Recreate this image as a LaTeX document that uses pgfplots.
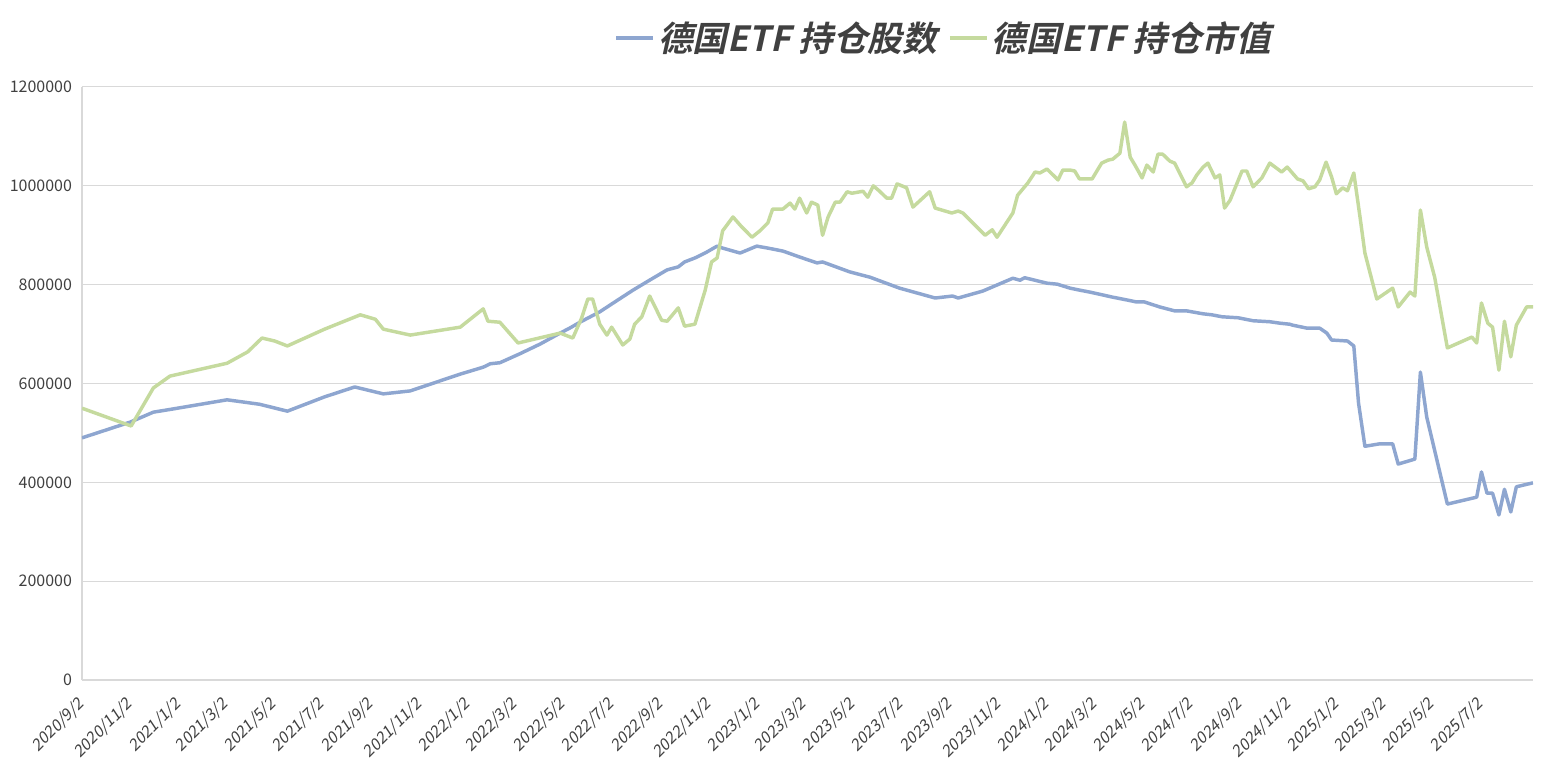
\documentclass[border=0pt]{standalone}
\usepackage{pgfplots}
\pgfplotsset{compat=1.18}
\usepackage{fontspec}
\setmainfont{Noto Sans CJK SC}
\newfontfamily\tickfont{Noto Sans CJK SC}
\newfontfamily\xtickfont{Noto Sans CJK SC}[FakeSlant=0.2]
\newfontfamily\legfont{Noto Sans CJK SC Bold}[FakeSlant=0.22]
\definecolor{sblue}{RGB}{142,166,208}
\definecolor{sgreen}{RGB}{197,218,158}
\definecolor{txt}{RGB}{64,64,64}
\definecolor{gridc}{RGB}{217,217,217}
\begin{document}
\begin{tikzpicture}
\begin{axis}[
  at={(0,0)}, anchor=south west,
  scale only axis, width=1088.25pt, height=444.75pt,
  xmin=0, xmax=1830, ymin=0, ymax=1200000,
  axis x line*=bottom, axis y line*=left,
  axis line style={draw=gridc, line width=1pt, -},
  ytick={0,200000,400000,600000,800000,1000000,1200000},
  ymajorgrids, grid style={draw=gridc, line width=0.75pt},
  major tick length=0pt,
  scaled y ticks=false,
  yticklabel style={font=\tickfont\fontsize{12}{14}\selectfont, text=txt, xshift=-4pt,
    /pgf/number format/.cd, fixed, 1000 sep={}, assume math mode=true},
  xtick={0,61,122,181,242,303,365,426,487,546,607,668,730,791,852,911,972,1033,1095,1156,1217,1277,1338,1399,1461,1522,1583,1642,1703,1764},
  xticklabels={2020/9/2,2020/11/2,2021/1/2,2021/3/2,2021/5/2,2021/7/2,2021/9/2,2021/11/2,2022/1/2,2022/3/2,2022/5/2,2022/7/2,2022/9/2,2022/11/2,2023/1/2,2023/3/2,2023/5/2,2023/7/2,2023/9/2,2023/11/2,2024/1/2,2024/3/2,2024/5/2,2024/7/2,2024/9/2,2024/11/2,2025/1/2,2025/3/2,2025/5/2,2025/7/2},
  xticklabel style={font=\xtickfont\fontsize{12}{14}\selectfont, text=txt, xshift=2pt, yshift=-14pt, rotate=45, anchor=east},
  legend columns=2,
  legend style={at={(0.594,1.083)}, anchor=center, draw=none, fill=none,
    font=\legfont\fontsize{26}{30}\selectfont, text=txt,
    /tikz/every even column/.append style={column sep=6pt}},
  legend image code/.code={\draw[#1, line width=3pt] (0pt,0pt) -- (28pt,0pt);},
  line join=round,
]
\addplot[sblue, line width=2.6pt] coordinates {
(0,490000)(61,522000)(90,542000)(113,548000)(183,567000)(224,558000)(259,544000)(306,573000)
(344,593000)(380,579000)(414,585000)(477,619000)(506,633000)(515,640000)(527,642000)(552,660000)
(578,680000)(603,702000)(615,712000)(628,724000)(653,745000)(672,765000)(695,789000)(720,813000)
(738,830000)(752,836000)(760,846000)(773,854000)(788,866000)(801,878000)(808,874000)(830,864000)
(851,878000)(865,874000)(884,868000)(905,856000)(927,844000)(934,846000)(968,826000)(994,815000)
(1031,793000)(1076,773000)(1098,777000)(1105,773000)(1136,787000)(1174,813000)(1183,809000)(1189,814000)
(1217,803000)(1230,801000)(1246,793000)(1258,789000)(1271,785000)(1288,779000)(1299,775000)(1318,769000)
(1330,765000)(1340,765000)(1359,755000)(1378,747000)(1393,747000)(1414,741000)(1425,739000)(1438,735000)
(1458,733000)(1477,727000)(1498,725000)(1511,722000)(1523,720000)(1527,718000)(1545,712000)(1561,712000)
(1570,702000)(1576,688000)(1596,686000)(1604,676000)(1610,560000)(1618,473000)(1637,478000)(1653,478000)
(1660,437000)(1681,447000)(1688,623000)(1696,532000)(1722,356000)(1759,370000)(1765,421000)(1772,378000)
(1779,378000)(1787,334000)(1794,386000)(1802,340000)(1809,391000)(1830,399000)
};
\addlegendentry{德国ETF 持仓股数}
\addplot[sgreen, line width=2.6pt] coordinates {
(0,550000)(62,514000)(90,591000)(111,615000)(183,641000)(209,664000)(227,692000)(243,686000)
(259,676000)(306,710000)(351,739000)(370,730000)(380,710000)(414,698000)(477,714000)(506,751000)
(512,726000)(527,724000)(550,682000)(603,702000)(619,692000)(630,732000)(638,771000)(644,771000)
(653,720000)(662,698000)(668,714000)(682,678000)(691,690000)(697,720000)(706,735000)(716,777000)
(731,728000)(738,726000)(752,753000)(760,716000)(773,720000)(786,789000)(794,846000)(801,854000)
(808,909000)(821,937000)(832,917000)(845,896000)(855,909000)(865,925000)(871,953000)(884,953000)
(893,965000)(899,953000)(905,975000)(914,945000)(920,967000)(928,961000)(934,900000)(941,937000)
(950,967000)(956,967000)(965,988000)(971,985000)(985,989000)(991,977000)(998,1000000)(1006,989000)
(1015,975000)(1021,975000)(1028,1004000)(1040,996000)(1048,957000)(1069,988000)(1076,955000)(1097,945000)
(1105,949000)(1111,945000)(1139,900000)(1148,911000)(1154,896000)(1174,945000)(1180,981000)(1193,1006000)
(1202,1028000)(1208,1026000)(1217,1034000)(1231,1012000)(1237,1032000)(1246,1032000)(1252,1030000)(1258,1014000)
(1274,1014000)(1286,1046000)(1294,1052000)(1300,1054000)(1309,1066000)(1315,1129000)(1322,1058000)(1328,1042000)
(1337,1016000)(1343,1042000)(1351,1028000)(1357,1064000)(1363,1064000)(1372,1050000)(1378,1046000)(1393,998000)
(1400,1006000)(1406,1022000)(1414,1038000)(1420,1046000)(1429,1016000)(1435,1022000)(1441,955000)(1448,971000)
(1463,1030000)(1469,1030000)(1477,998000)(1488,1016000)(1498,1046000)(1513,1028000)(1520,1038000)(1533,1014000)
(1540,1010000)(1547,994000)(1555,998000)(1561,1012000)(1569,1048000)(1576,1018000)(1582,984000)(1590,996000)
(1596,990000)(1604,1026000)(1612,935000)(1618,864000)(1633,771000)(1653,793000)(1660,755000)(1675,785000)
(1681,777000)(1688,951000)(1696,876000)(1706,815000)(1722,672000)(1753,694000)(1759,682000)(1765,763000)
(1773,722000)(1779,714000)(1787,627000)(1794,726000)(1802,654000)(1809,718000)(1822,755000)(1830,755000)
};
\addlegendentry{德国ETF 持仓市值}
\end{axis}
\pgfresetboundingbox
\useasboundingbox (-61.5pt,-66pt) rectangle (1097.25pt,510pt);
\end{tikzpicture}
\end{document}
